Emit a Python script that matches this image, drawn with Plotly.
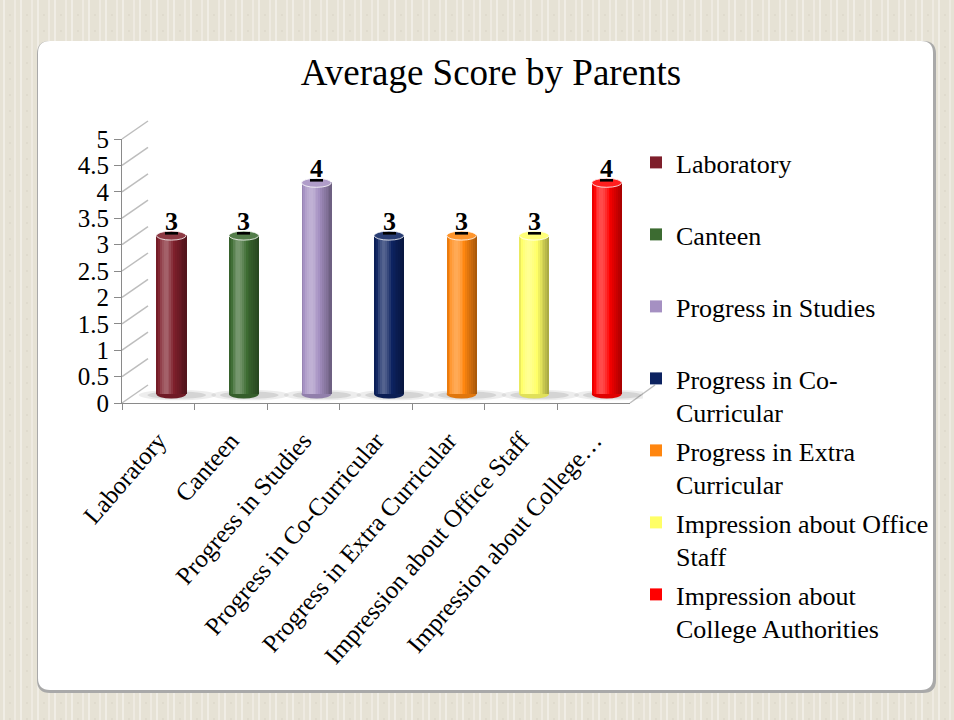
import numpy as np
import plotly.graph_objects as go

# ---- data ----
categories = ["Laboratory", "Canteen", "Progress in Studies", "Progress in Co-Curricular",
              "Progress in Extra Curricular", "Impression about Office Staff",
              "Impression about College Authorities"]
legend_labels = ["Laboratory", "Canteen", "Progress in Studies", "Progress in Co-<br>Curricular",
                 "Progress in Extra<br>Curricular", "Impression about Office<br>Staff",
                 "Impression about<br>College Authorities"]
scores = [3, 3, 4, 3, 3, 3, 4]
bar_colors = ["#7E1F2B", "#3C6B31", "#A590C2", "#0C2260", "#FF860F", "#FFFF66", "#FF0000"]
y_ticks = [0, 0.5, 1, 1.5, 2, 2.5, 3, 3.5, 4, 4.5, 5]

SERIF = "Liberation Serif, Times New Roman, serif"
W, H = 954, 720


def fx(px):
    return px / W


def fy(py):
    return 1 - py / H


# pseudo-3d frame (pixels): front plane, back wall, bars in between
FRONT_X0, FRONT_X1, FRONT_Y0 = 122, 630, 403
BACK_X0, BACK_X1, BACK_Y0 = 148, 655, 385
MID_X0, MID_X1, MID_Y0 = 135, 643, 394
UNIT = 52.8  # pixels per score point
PAD = 0.2
BW = 0.41  # bar width in category units
ELL = 4.5 / UNIT  # half height of cylinder ellipse, in score units


def mix(hexc, f):
    c = np.array([int(hexc[i:i + 2], 16) for i in (1, 3, 5)], dtype=float)
    t = np.array([255.0, 255.0, 255.0]) if f > 0 else np.zeros(3)
    c = c + (t - c) * abs(f)
    return "rgb(%d,%d,%d)" % tuple(np.clip(c, 0, 255).round())


def rrect(x0, y0, x1, y1, r):
    return (f"M {fx(x0 + r)},{fy(y0)} L {fx(x1 - r)},{fy(y0)} Q {fx(x1)},{fy(y0)} {fx(x1)},{fy(y0 + r)} "
            f"L {fx(x1)},{fy(y1 - r)} Q {fx(x1)},{fy(y1)} {fx(x1 - r)},{fy(y1)} "
            f"L {fx(x0 + r)},{fy(y1)} Q {fx(x0)},{fy(y1)} {fx(x0)},{fy(y1 - r)} "
            f"L {fx(x0)},{fy(y0 + r)} Q {fx(x0)},{fy(y0)} {fx(x0 + r)},{fy(y0)} Z")


fig = go.Figure()

# legend / base bars
for i, (cat, v, c) in enumerate(zip(categories, scores, bar_colors)):
    fig.add_trace(go.Bar(
        x=[cat], y=[v], width=BW, name=legend_labels[i],
        marker=dict(color=c, line=dict(width=0)),
        legend="legend" if i == 0 else f"legend{i + 1}",
        hoverinfo="x+y",
    ))

# cylinder shading strips
N = 16
sw = BW / N
for k in range(N):
    t = (k + 0.5) / N
    f = (0.30 * np.exp(-((t - 0.32) / 0.2) ** 2)
         - 0.36 * max(0.0, (t - 0.5) / 0.5) ** 1.3
         - 0.15 * max(0.0, (0.15 - t) / 0.15))
    fig.add_trace(go.Bar(
        x=categories, y=scores, width=sw * 1.25, offset=-BW / 2 + k * sw,
        marker=dict(color=[mix(c, f) for c in bar_colors], line=dict(width=0)),
        showlegend=False, hoverinfo="skip",
    ))

# invisible trace registering categories on the front axis
fig.add_trace(go.Bar(x=categories, y=scores, xaxis="x2", yaxis="y2",
                     marker=dict(opacity=0), showlegend=False, hoverinfo="skip"))

shapes = []
# background stripes
for x in range(4, W, 17):
    shapes.append(dict(type="line", xref="paper", yref="paper", x0=fx(x), x1=fx(x), y0=0, y1=1,
                       line=dict(color="#F0EDE5", width=2), layer="below"))
    shapes.append(dict(type="line", xref="paper", yref="paper", x0=fx(x + 6), x1=fx(x + 6), y0=0, y1=1,
                       line=dict(color="#D8D3C5", width=1, dash="2px,14px"), layer="below"))
    shapes.append(dict(type="line", xref="paper", yref="paper", x0=fx(x + 11), x1=fx(x + 11), y0=0, y1=1,
                       line=dict(color="#EEEAE1", width=2), layer="below"))
# panel with shadow
shapes.append(dict(type="path", xref="paper", yref="paper", path=rrect(37, 41, 936, 693, 13),
                   fillcolor="#A9A9A9", line=dict(width=0), layer="below"))
shapes.append(dict(type="path", xref="paper", yref="paper", path=rrect(38, 41, 933, 690, 12),
                   fillcolor="#FFFFFF", line=dict(width=0), layer="below"))
# side wall diagonals
for v in y_ticks:
    shapes.append(dict(type="line", xref="paper", yref="paper",
                       x0=fx(FRONT_X0), y0=fy(FRONT_Y0 - v * UNIT),
                       x1=fx(BACK_X0), y1=fy(BACK_Y0 - v * UNIT),
                       line=dict(color="#BDBDBD", width=1.5), layer="below"))
# right floor edge
shapes.append(dict(type="line", xref="paper", yref="paper",
                   x0=fx(FRONT_X1), y0=fy(FRONT_Y0), x1=fx(BACK_X1), y1=fy(BACK_Y0),
                   line=dict(color="#BDBDBD", width=1.5), layer="below"))

# floor shadows and rounded bottoms
for i, (v, c) in enumerate(zip(scores, bar_colors)):
    shapes.append(dict(type="circle", xref="x", yref="y", x0=i - 0.45, x1=i + 0.62,
                       y0=-0.12, y1=0.08, fillcolor="rgba(0,0,0,0.07)", line=dict(width=0), layer="between"))
    shapes.append(dict(type="circle", xref="x", yref="y", x0=i - 0.33, x1=i + 0.48,
                       y0=-0.09, y1=0.05, fillcolor="rgba(0,0,0,0.10)", line=dict(width=0), layer="between"))
    shapes.append(dict(type="circle", xref="x", yref="y", x0=i - BW / 2, x1=i + BW / 2,
                       y0=-ELL, y1=ELL, fillcolor=mix(c, -0.12), line=dict(width=0), layer="between"))
    # top of cylinder
    shapes.append(dict(type="circle", xref="x", yref="y", x0=i - BW / 2, x1=i + BW / 2,
                       y0=v - ELL, y1=v + ELL, fillcolor=mix(c, 0.12),
                       line=dict(color="rgba(255,255,255,0.8)", width=1), layer="above"))

annotations = []
for i, v in enumerate(scores):
    annotations.append(dict(x=i, y=v, xref="x", yref="y", text=f"<b><u>{v}</u></b>",
                            showarrow=False, yanchor="bottom", yshift=-2,
                            font=dict(family=SERIF, size=26, color="black")))

layout_legends = {}
for i in range(len(categories)):
    key = "legend" if i == 0 else f"legend{i + 1}"
    layout_legends[key] = dict(x=fx(636), y=fy(164 + 72 * i - 25), xanchor="left", yanchor="top",
                               bgcolor="rgba(0,0,0,0)", valign="top", itemwidth=30,
                               font=dict(family=SERIF, size=26, color="black"))

fig.update_layout(
    width=W, height=H, margin=dict(l=0, r=0, t=0, b=0, autoexpand=False),
    paper_bgcolor="#E6E2D5", plot_bgcolor="rgba(0,0,0,0)",
    barmode="overlay", bargap=0,
    title=dict(text="Average Score by Parents", x=fx(491), y=fy(72), xanchor="center", yanchor="middle",
               font=dict(family=SERIF, size=37, color="black")),
    font=dict(family=SERIF, color="black"),
    xaxis=dict(domain=[fx(MID_X0), fx(MID_X1)], anchor="y", visible=False,
               categoryorder="array", categoryarray=categories, range=[-0.5, 6.5]),
    yaxis=dict(domain=[fy(MID_Y0 + PAD * UNIT), fy(MID_Y0 - (5 + PAD) * UNIT)], anchor="x",
               visible=False, range=[-PAD, 5 + PAD]),
    xaxis2=dict(domain=[fx(FRONT_X0), fx(FRONT_X1)], anchor="y2", type="category",
                categoryorder="array", categoryarray=categories, range=[-0.5, 6.5],
                showline=True, linecolor="#8A8A8A", linewidth=1, showgrid=False,
                ticks="outside", tickson="boundaries", ticklen=6, tickcolor="#8A8A8A",
                tickangle=-49, ticklabelstandoff=12,
                tickfont=dict(family=SERIF, size=25, color="black"),
                labelalias={"Impression about College Authorities": "Impression about College…"}),
    yaxis2=dict(domain=[fy(FRONT_Y0), fy(FRONT_Y0 - 5 * UNIT)], anchor="x2", range=[0, 5],
                tickvals=y_ticks, showline=True, linecolor="#8A8A8A", linewidth=1, showgrid=False,
                zeroline=False, ticks="outside", ticklen=7, tickcolor="#8A8A8A",
                tickfont=dict(family=SERIF, size=25, color="black")),
    xaxis3=dict(domain=[fx(BACK_X0), fx(BACK_X1)], anchor="y3", visible=False, range=[0, 1]),
    yaxis3=dict(domain=[fy(BACK_Y0), fy(BACK_Y0 - 5 * UNIT)], anchor="x3", range=[0, 5],
                tickvals=y_ticks, showgrid=True, gridcolor="#BDBDBD", gridwidth=1.5,
                showticklabels=False, ticks="", zeroline=False, showline=False),
    shapes=shapes, annotations=annotations,
    **layout_legends,
)

# the page's default body margin would offset the fixed-size figure
fig.write_html("out.html", config={"displayModeBar": False},
               post_script="document.body.style.margin='0';")
